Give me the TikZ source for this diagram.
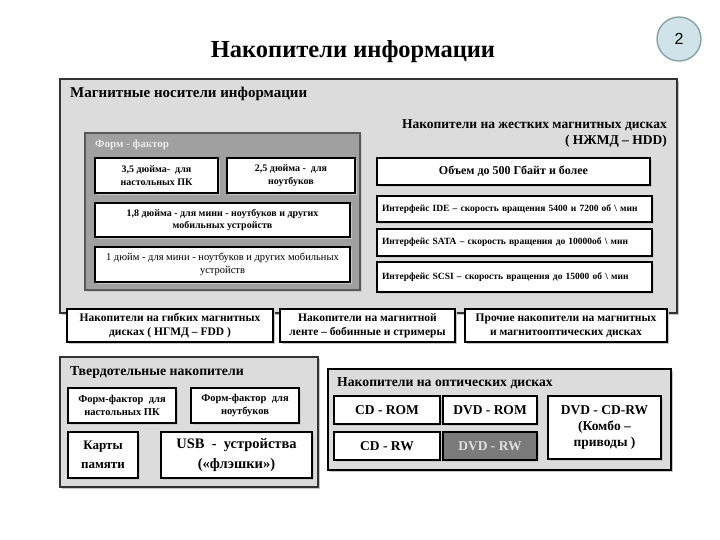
\documentclass[tikz,border=0pt]{standalone}
\usepackage{fontspec}
\setmainfont{Liberation Serif}
\newfontfamily\numfont{Liberation Sans}
\usetikzlibrary{shadows}
\definecolor{panelgray}{HTML}{DCDCDC}
\definecolor{ffgray}{HTML}{A0A0A0}
\definecolor{darkfill}{HTML}{7A7A7A}
\definecolor{circfill}{HTML}{CFE3E8}
\definecolor{circline}{HTML}{7F9FA5}
\newcommand\fsz[1]{\fontsize{#1pt}{\the\dimexpr #1pt*6/5\relax}\selectfont}
\newcommand\bx[7]{\node[#2, minimum width={(#5-#3)*1pt}, minimum height={(#6-#4)*1pt}] (#1) at ({(#3+#5)/2},{(#4+#6)/2}) {#7};}
\tikzset{
  shd/.style={drop shadow={shadow xshift=2pt, shadow yshift=-2pt, fill=black!22, opacity=1}},
  panel/.style={draw=black!80, line width=1.3pt, fill=panelgray, shd, inner sep=0pt},
  ffpanel/.style={draw=black!65, line width=1.5pt, fill=ffgray, shd, inner sep=0pt},
  wbox/.style={draw=black, line width=1.2pt, fill=white, shd, align=center, inner sep=1pt, font=\bfseries\fsz{10}},
  lbox/.style={wbox, align=left, text width={(#1)*1pt}},
  darkbox/.style={wbox, fill=darkfill, text=white!88!black},
  ptitle/.style={anchor=west, inner sep=0pt, font=\bfseries\fsz{13.5}}
}
\begin{document}
\begin{tikzpicture}[x=1pt,y=-1pt]
\useasboundingbox[fill=white] (0,0) rectangle (720,540);
% title
\node[font=\bfseries\fsz{24.5}, inner sep=0pt] (title) at (353,52) {Накопители информации};
\node[circle, draw=circline, line width=1.3pt, fill=circfill, minimum size=44pt, inner sep=0pt, font=\numfont\fsz{16}] (num) at (679,39) {2};
% magnetic
\bx{mag}{panel}{60}{79}{677}{313}{}
\node[ptitle, font=\bfseries\fsz{15}] (magt) at (70,94) {Магнитные носители информации};
\bx{ff}{ffpanel}{85}{133}{360}{290}{}
\node[anchor=west, inner sep=0pt, text=white!92!black, font=\bfseries\fsz{11}] (fft) at (95,145) {Форм - фактор};
\bx{ff1}{wbox}{95}{158}{218}{193}{3,5 дюйма-\ \ для\\[1pt]настольных ПК}
\bx{ff2}{wbox}{227}{158}{355}{193}{2,5 дюйма -\ \ для\\[1pt]ноутбуков}
\bx{ff3}{wbox}{95}{203}{350}{237}{1,8 дюйма - для мини - ноутбуков и других\\[1pt]мобильных устройств}
\bx{ff4}{wbox, font=\fsz{10.5}}{95}{247}{350}{282}{1 дюйм - для мини - ноутбуков и других мобильных\\[1pt]устройств}
\node[anchor=north east, align=right, inner sep=0pt, font=\bfseries\fsz{13.5}] (hddt) at (667,119) {Накопители на жестких магнитных дисках\\( НЖМД – HDD)};
\bx{h1}{wbox, font=\bfseries\fsz{12}}{377}{158}{650}{185}{Объем до 500 Гбайт и более}
\bx{h2}{lbox=265, font=\bfseries\fsz{9.5}}{377}{196}{652}{222}{Интерфейс IDE – скорость вращения 5400 и 7200 об \textbackslash\ мин}
\bx{h3}{lbox=265, font=\bfseries\fsz{9.5}}{377}{229}{652}{256}{Интерфейс SATA – скорость вращения до 10000об \textbackslash\ мин}
\bx{h4}{lbox=265, font=\bfseries\fsz{9.5}}{377}{262}{652}{292}{Интерфейс SCSI – скорость вращения до 15000 об \textbackslash\ мин}
\bx{fdd}{wbox, font=\bfseries\fsz{11.5}}{67}{309}{273}{342}{Накопители на гибких магнитных\\дисках ( НГМД – FDD )}
\bx{tape}{wbox, font=\bfseries\fsz{11.5}}{280}{309}{455}{342}{Накопители на магнитной\\ленте – бобинные и стримеры}
\bx{oth}{wbox, font=\bfseries\fsz{11.5}}{465}{309}{667}{342}{Прочие накопители на магнитных\\и магнитооптических дисках}
% solid state
\bx{ss}{panel}{60}{357}{318}{487}{}
\node[ptitle, font=\bfseries\fsz{13.8}] (sst) at (70,372) {Твердотельные накопители};
\bx{s1}{wbox, font=\bfseries\fsz{10.5}}{68}{388}{176}{423}{Форм-фактор\ \ для\\[1pt]настольных ПК}
\bx{s2}{wbox, font=\bfseries\fsz{10.5}}{191}{388}{299}{423}{Форм-фактор\ \ для\\[1pt]ноутбуков}
\bx{s3}{wbox, font=\bfseries\fsz{13}}{68}{432}{138}{478}{Карты\\[3pt]памяти}
\bx{s4}{wbox, font=\bfseries\fsz{14.5}}{161}{432}{312}{478}{USB\ \ -\ \ устройства\\[2pt](«флэшки»)}
% optical
\bx{opt}{panel, draw=black, line width=2pt}{328}{369}{671}{470}{}
\node[ptitle, font=\bfseries\fsz{13.7}] (optt) at (337,383) {Накопители на оптических дисках};
\bx{o1}{wbox, font=\bfseries\fsz{13.5}}{334}{396}{440}{424}{CD - ROM}
\bx{o2}{wbox, font=\bfseries\fsz{13.5}}{443}{396}{537}{424}{DVD - ROM}
\bx{o3}{wbox, font=\bfseries\fsz{13.5}}{548}{396}{661}{459}{DVD - CD-RW\\(Комбо –\\приводы )}
\bx{o4}{wbox, font=\bfseries\fsz{13.5}}{334}{432}{440}{460}{CD - RW}
\bx{o5}{darkbox, font=\bfseries\fsz{13.5}}{443}{432}{537}{460}{DVD - RW}
\end{tikzpicture}
\end{document}
